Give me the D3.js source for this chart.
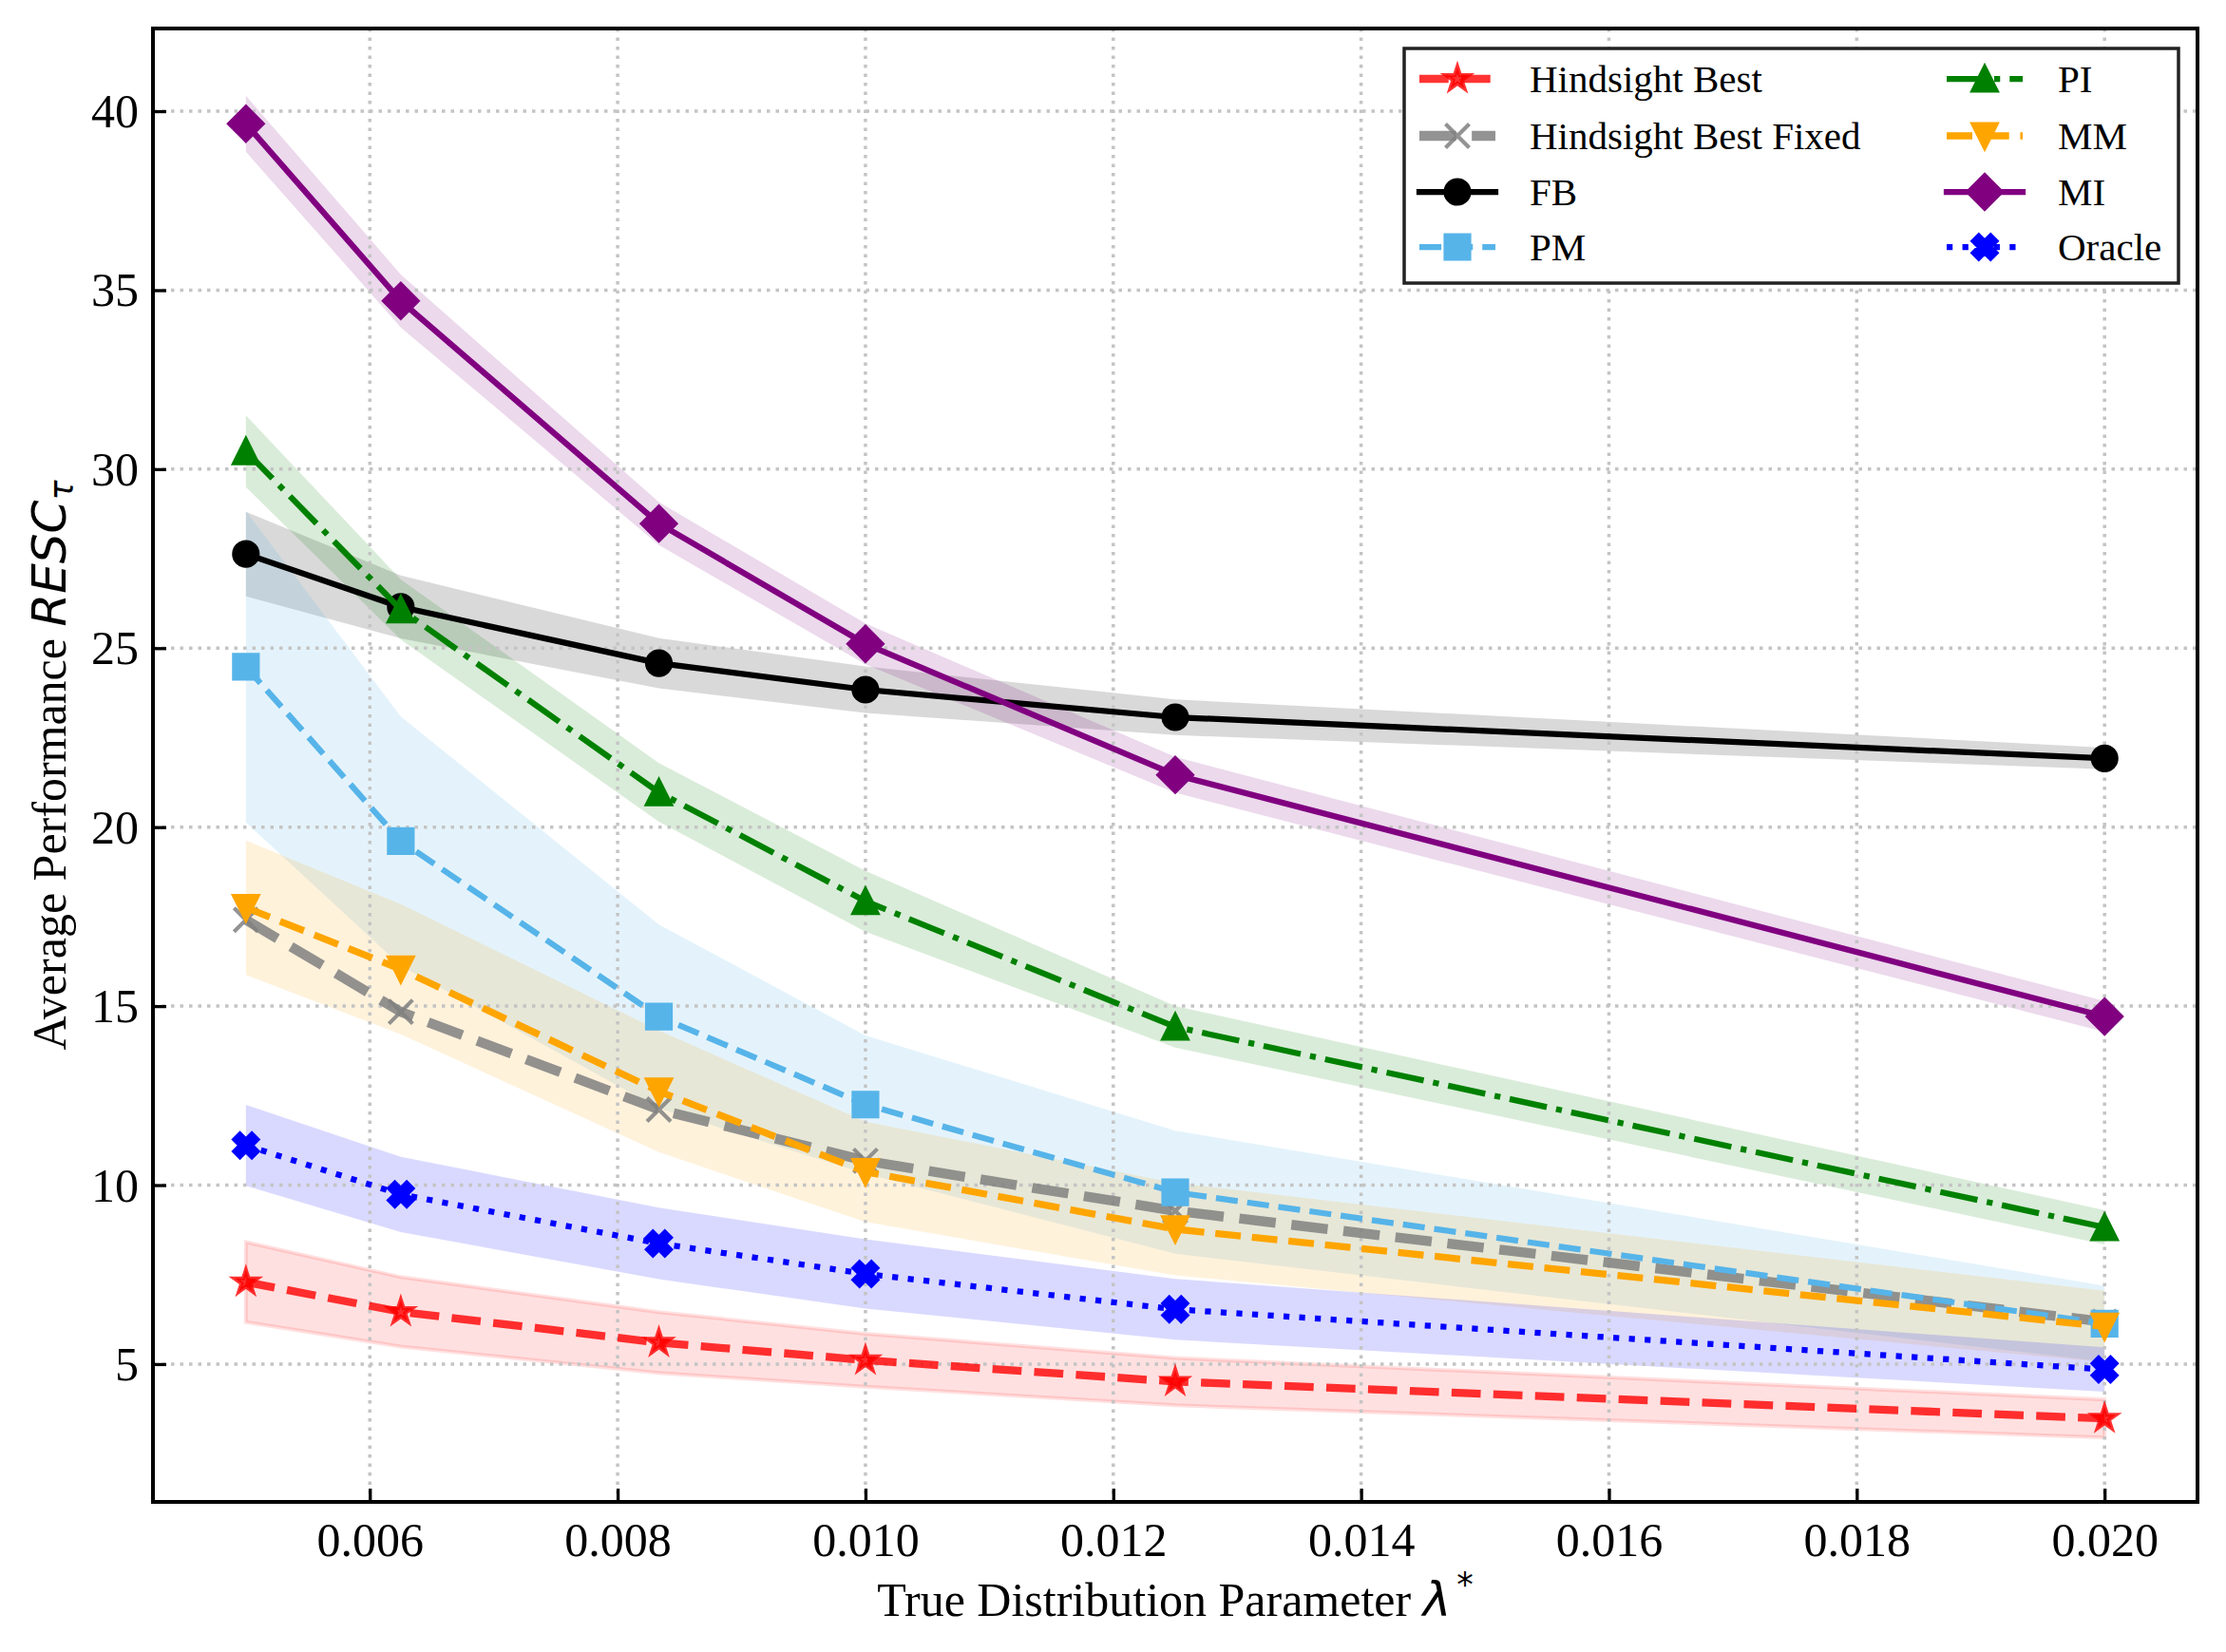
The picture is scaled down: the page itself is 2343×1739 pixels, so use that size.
<!DOCTYPE html>
<html>
<head>
<meta charset="utf-8">
<script src="https://cdn.jsdelivr.net/npm/d3@7"></script>
<style>
  body { margin: 0; background: #fff; }
  svg { display: block; }
</style>
</head>
<body>
<svg id="chart" width="2343" height="1739"></svg>
<script>
// x values (true lambda*) and tick labels
const lambdas = [0.005, 0.00625, 0.008333, 0.01, 0.0125, 0.02];
const xTicks = [0.006, 0.008, 0.010, 0.012, 0.014, 0.016, 0.018, 0.020];
const yTicks = [5, 10, 15, 20, 25, 30, 35, 40];

const seriesNames = ["Hindsight Best", "Hindsight Best Fixed", "FB", "PM", "PI", "MM", "MI", "Oracle"];

// means and spread (band = mean +/- err)
const hindsightBest = [7.29, 6.46, 5.60, 5.11, 4.51, 3.48];
const hindsightBestErr = [1.12, 0.97, 0.85, 0.74, 0.66, 0.53];
const hindsightFixed = [17.41, 14.84, 12.11, 10.68, 9.28, 6.18];
const fb = [27.63, 26.15, 24.58, 23.84, 23.07, 21.92];
const fbErr = [1.18, 0.88, 0.70, 0.65, 0.50, 0.30];
const pm = [24.48, 19.61, 14.71, 12.25, 9.80, 6.13];
const pmErr = [4.35, 3.48, 2.57, 1.93, 1.72, 1.06];
const pi = [30.50, 26.08, 20.97, 17.93, 14.42, 8.82];
const piErr = [1.00, 0.84, 0.82, 0.85, 0.58, 0.48];
const mm = [17.75, 16.03, 12.62, 10.37, 8.77, 6.05];
const mmErr = [1.88, 1.82, 1.70, 1.40, 1.29, 1.00];
const mi = [39.65, 34.70, 28.48, 25.12, 21.46, 14.71];
const miErr = [0.78, 0.74, 0.60, 0.57, 0.50, 0.43];
const oracle = [11.11, 9.74, 8.37, 7.52, 6.53, 4.85];
const oracleErr = [1.13, 1.05, 1.00, 0.97, 0.85, 0.62];

(() => {
  const width = 2343;
  const height = 1739;
  const margin = { top: 30, right: 30, bottom: 158, left: 161 };
  const innerWidth = width - margin.left - margin.right;
  const innerHeight = height - margin.top - margin.bottom;
  const SERIF = "'Liberation Serif', 'Times New Roman', serif";
  const MATH = "'DejaVu Sans', sans-serif";
  const MS = 25; // marker size px

  const styles = [
    { color: "#ff0000", alpha: 0.8, lw: 8.3, dash: [3.7, 1.6], marker: "star", bandAlpha: 0.12, bandEdge: true },
    { color: "#808080", alpha: 0.85, lw: 10.4, dash: [3.7, 1.6], marker: "x" },
    { color: "#000000", alpha: 1, lw: 6.25, dash: null, marker: "circle", bandAlpha: 0.15 },
    { color: "#56B4E9", alpha: 1, lw: 6.25, dash: [3.7, 1.6], marker: "square", bandAlpha: 0.16 },
    { color: "#008000", alpha: 1, lw: 6.25, dash: [6.4, 1.6, 1, 1.6], marker: "triUp", bandAlpha: 0.15 },
    { color: "#FFA500", alpha: 1, lw: 7.3, dash: [3.7, 1.6], marker: "triDown", bandAlpha: 0.14 },
    { color: "#800080", alpha: 1, lw: 6.25, dash: null, marker: "diamond", bandAlpha: 0.15 },
    { color: "#0000FF", alpha: 1, lw: 6.25, dash: [1, 1.65], marker: "xFilled", bandAlpha: 0.15 }
  ];
  const means = [hindsightBest, hindsightFixed, fb, pm, pi, mm, mi, oracle];
  const errs = [hindsightBestErr, null, fbErr, pmErr, piErr, mmErr, miErr, oracleErr];

  const series = seriesNames.map((name, i) => ({
    name,
    style: styles[i],
    points: lambdas.map((l, j) => ({ l, v: means[i][j], e: errs[i] ? errs[i][j] : 0 })),
    hasBand: !!errs[i]
  }));

  const svg = d3.select("#chart");
  svg.append("rect").attr("width", width).attr("height", height).attr("fill", "#fff");

  const g = svg.append("g")
    .attr("transform", `translate(${margin.left}, ${margin.top})`);

  const x = d3.scaleLinear().domain([0.00425, 0.02075]).range([0, innerWidth]);
  const y = d3.scaleLinear().domain([1.15, 42.31]).range([innerHeight, 0]);

  function markerPath(type, s) {
    const h = s / 2;
    switch (type) {
      case "star": {
        const pts = d3.range(10).map(i => {
          const r = i % 2 ? h * 0.381966 : h;
          const a = -Math.PI / 2 + i * Math.PI / 5;
          return [r * Math.cos(a), r * Math.sin(a)];
        });
        return "M" + pts.join("L") + "Z";
      }
      case "x":
        return `M${-h},${-h}L${h},${h}M${-h},${h}L${h},${-h}`;
      case "circle":
        return `M${h},0A${h},${h} 0 1,1 ${-h},0A${h},${h} 0 1,1 ${h},0Z`;
      case "square":
        return `M${-h},${-h}H${h}V${h}H${-h}Z`;
      case "triUp":
        return `M0,${-h}L${h},${h}L${-h},${h}Z`;
      case "triDown":
        return `M0,${h}L${h},${-h}L${-h},${-h}Z`;
      case "diamond": {
        const d = h * Math.SQRT2;
        return `M0,${-d}L${d},0L0,${d}L${-d},0Z`;
      }
      case "xFilled": {
        const v = [[-1, -2], [0, -1], [1, -2], [2, -1], [1, 0], [2, 1],
          [1, 2], [0, 1], [-1, 2], [-2, 1], [-1, 0], [-2, -1]]
          .map(p => [p[0] * s / 4, p[1] * s / 4]);
        return "M" + v.join("L") + "Z";
      }
    }
  }

  function drawMarker(sel, st) {
    const m = sel.append("path")
      .attr("d", markerPath(st.marker, MS))
      .attr("stroke", st.color)
      .attr("stroke-opacity", st.alpha)
      .attr("stroke-width", 4.2)
      .attr("stroke-linejoin", "miter");
    if (st.marker === "x") {
      m.attr("fill", "none");
    } else {
      m.attr("fill", st.color).attr("fill-opacity", st.alpha);
    }
  }

  function styleLine(sel, st) {
    sel.attr("fill", "none")
      .attr("stroke", st.color)
      .attr("stroke-opacity", st.alpha)
      .attr("stroke-width", st.lw)
      .attr("stroke-linejoin", "round")
      .attr("stroke-linecap", st.dash ? "butt" : "square");
    if (st.dash) sel.attr("stroke-dasharray", st.dash.map(d => d * st.lw).join(","));
  }

  // bands
  const area = d3.area()
    .x(d => x(d.l))
    .y0(d => y(d.v - d.e))
    .y1(d => y(d.v + d.e));

  series.filter(s => s.hasBand).forEach(s => {
    g.append("path")
      .attr("d", area(s.points))
      .attr("fill", s.style.color)
      .attr("fill-opacity", s.style.bandAlpha)
      .attr("stroke", s.style.bandEdge ? s.style.color : "none")
      .attr("stroke-opacity", s.style.bandAlpha)
      .attr("stroke-width", 4);
  });

  // grid
  const grid = g.append("g").attr("class", "grid")
    .attr("stroke", "#c4c4c4")
    .attr("stroke-width", 3.5)
    .attr("stroke-dasharray", "3.5,6");
  grid.selectAll(".gx").data(xTicks).join("line")
    .attr("x1", d => x(d)).attr("x2", d => x(d))
    .attr("y1", 0).attr("y2", innerHeight);
  grid.selectAll(".gy").data(yTicks).join("line")
    .attr("y1", d => y(d)).attr("y2", d => y(d))
    .attr("x1", 0).attr("x2", innerWidth);

  // lines and markers
  const line = d3.line().x(d => x(d.l)).y(d => y(d.v));
  series.forEach(s => {
    g.append("path").attr("d", line(s.points)).call(styleLine, s.style);
    s.points.forEach(p => {
      const mg = g.append("g").attr("transform", `translate(${x(p.l)}, ${y(p.v)})`);
      drawMarker(mg, s.style);
    });
  });

  // axes (ticks inward)
  const xAxis = g.append("g")
    .attr("transform", `translate(0, ${innerHeight})`)
    .call(d3.axisBottom(x).tickValues(xTicks).tickFormat(d3.format(".3f")).tickSizeInner(-14).tickSizeOuter(0).tickPadding(30));
  const yAxis = g.append("g")
    .call(d3.axisLeft(y).tickValues(yTicks).tickSizeInner(-14).tickSizeOuter(0).tickPadding(30));

  [xAxis, yAxis].forEach(ax => {
    ax.select(".domain").remove();
    ax.selectAll(".tick line").attr("stroke", "#000").attr("stroke-width", 3.3);
    ax.selectAll(".tick text")
      .attr("fill", "#000")
      .style("font-family", SERIF)
      .style("font-size", "50px");
  });
  xAxis.selectAll(".tick text").attr("dy", "0.71em").attr("y", 21);
  yAxis.selectAll(".tick text").attr("x", -15).attr("dy", "0.33em");

  // frame
  g.append("rect")
    .attr("width", innerWidth)
    .attr("height", innerHeight)
    .attr("fill", "none")
    .attr("stroke", "#000")
    .attr("stroke-width", 4);

  // axis labels
  const xl = svg.append("text")
    .attr("x", margin.left + innerWidth / 2)
    .attr("y", 1701)
    .attr("text-anchor", "middle")
    .attr("fill", "#000")
    .style("font-size", "50px");
  xl.append("tspan").style("font-family", SERIF).text("True Distribution Parameter ");
  xl.append("tspan").style("font-family", MATH).style("font-style", "italic").text("λ");
  xl.append("tspan").style("font-family", MATH).style("font-size", "35px").attr("dx", 6).attr("dy", -21).text("*");

  const yl = svg.append("text")
    .attr("transform", `translate(69, ${margin.top + innerHeight / 2}) rotate(-90)`)
    .attr("text-anchor", "middle")
    .attr("fill", "#000")
    .style("font-size", "50px");
  yl.append("tspan").style("font-family", SERIF).text("Average Performance ");
  yl.append("tspan").style("font-family", MATH).style("font-style", "italic").text("RESC");
  yl.append("tspan").style("font-family", MATH).style("font-style", "italic").style("font-size", "35px").attr("dy", 8).text("τ");

  // legend
  const legend = svg.append("g");
  legend.append("rect")
    .attr("x", 1478).attr("y", 51)
    .attr("width", 815).attr("height", 247)
    .attr("fill", "#fff")
    .attr("stroke", "#222")
    .attr("stroke-width", 3.5);

  const cols = [{ hx: 1494, tx: 1610 }, { hx: 2049, tx: 2166 }];
  const rowY = [83, 143, 202, 260];
  series.forEach((s, i) => {
    const c = cols[Math.floor(i / 4)];
    const ry = rowY[i % 4];
    const item = legend.append("g");
    item.append("path")
      .attr("d", `M${c.hx},${ry}H${c.hx + 80}`)
      .call(styleLine, s.style);
    const mg = item.append("g").attr("transform", `translate(${c.hx + 40}, ${ry})`);
    drawMarker(mg, s.style);
    item.append("text")
      .attr("x", c.tx)
      .attr("y", ry + 14)
      .attr("fill", "#000")
      .style("font-family", SERIF)
      .style("font-size", "41px")
      .text(s.name);
  });
})();
</script>
</body>
</html>
